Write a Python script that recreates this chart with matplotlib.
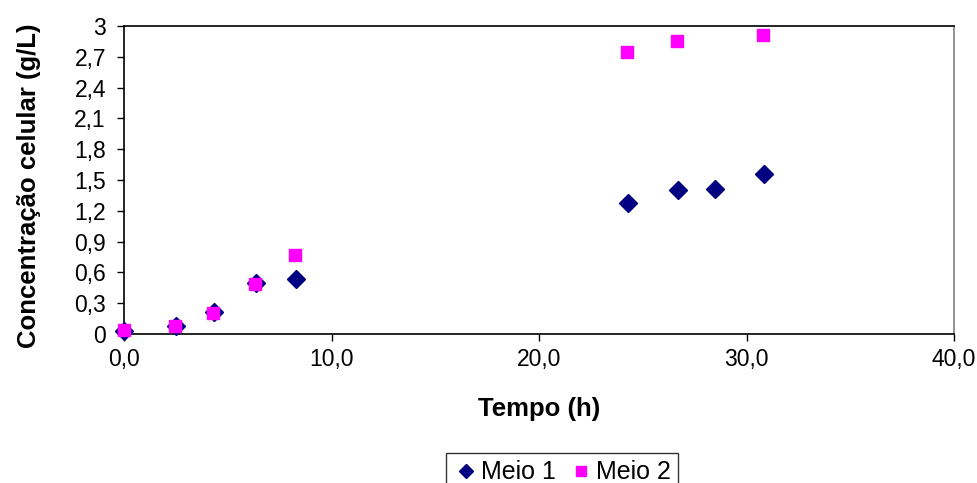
import matplotlib.pyplot as plt
from matplotlib.ticker import FixedLocator

plt.rcParams['font.family'] = ['Liberation Sans', 'DejaVu Sans']

# Meio 1
t1 = [0.0, 2.5, 4.35, 6.35, 8.3, 24.3, 26.7, 28.5, 30.85]
c1 = [0.03, 0.08, 0.21, 0.50, 0.54, 1.28, 1.40, 1.415, 1.555]
# Meio 2
t2 = [0.0, 2.45, 4.3, 6.3, 8.25, 24.25, 26.65, 30.8]
c2 = [0.04, 0.08, 0.20, 0.49, 0.77, 2.75, 2.85, 2.91]

yticks = [0, 0.3, 0.6, 0.9, 1.2, 1.5, 1.8, 2.1, 2.4, 2.7, 3]
ylabels = ['0', '0,3', '0,6', '0,9', '1,2', '1,5', '1,8', '2,1', '2,4', '2,7', '3']
xticks = [0, 10, 20, 30, 40]
xlabels = ['0,0', '10,0', '20,0', '30,0', '40,0']

fig = plt.figure(figsize=(9.78, 4.83), dpi=100)
ax = fig.add_axes([0.1268, 0.3085, 0.8487, 0.6377])

ax.plot(t1, c1, linestyle='none', marker='D', markersize=9.5, color='#000080',
        markeredgecolor='#000080', label='Meio 1', clip_on=False, zorder=3)
ax.plot(t2, c2, linestyle='none', marker='s', markersize=8.5, color='#FF00FF',
        markeredgecolor='#FF00FF', label='Meio 2', clip_on=False, zorder=4)

ax.set_xlim(0, 40)
ax.set_ylim(0, 3)
ax.xaxis.set_major_locator(FixedLocator(xticks))
ax.set_xticklabels(xlabels)
ax.yaxis.set_major_locator(FixedLocator(yticks))
ax.set_yticklabels(ylabels)
ax.tick_params(axis='both', direction='out', length=5, width=1, labelsize=16.5,
               colors='black')
ax.tick_params(axis='x', pad=5)
ax.tick_params(axis='y', pad=8)

for s in ['left', 'bottom', 'top']:
    ax.spines[s].set_color('black')
    ax.spines[s].set_linewidth(1.2)
ax.spines['right'].set_color('#808080')
ax.spines['right'].set_linewidth(1.2)

ax.set_xlabel('Tempo (h)', fontsize=18.5, fontweight='bold', labelpad=19)
ax.set_ylabel('Concentração celular (g/L)', fontsize=18.5, fontweight='bold')
ax.yaxis.set_label_coords(-0.100, 0.48)

leg = fig.legend(loc='upper center', bbox_to_anchor=(0.5746, 0.0885), ncol=2,
                 fontsize=18, frameon=True, fancybox=False, edgecolor='black',
                 handletextpad=0.1, columnspacing=0.5, handlelength=1.0,
                 borderpad=0.3, markerscale=0.8)
leg.get_frame().set_linewidth(1.0)

fig.savefig('out.png', dpi=100)
